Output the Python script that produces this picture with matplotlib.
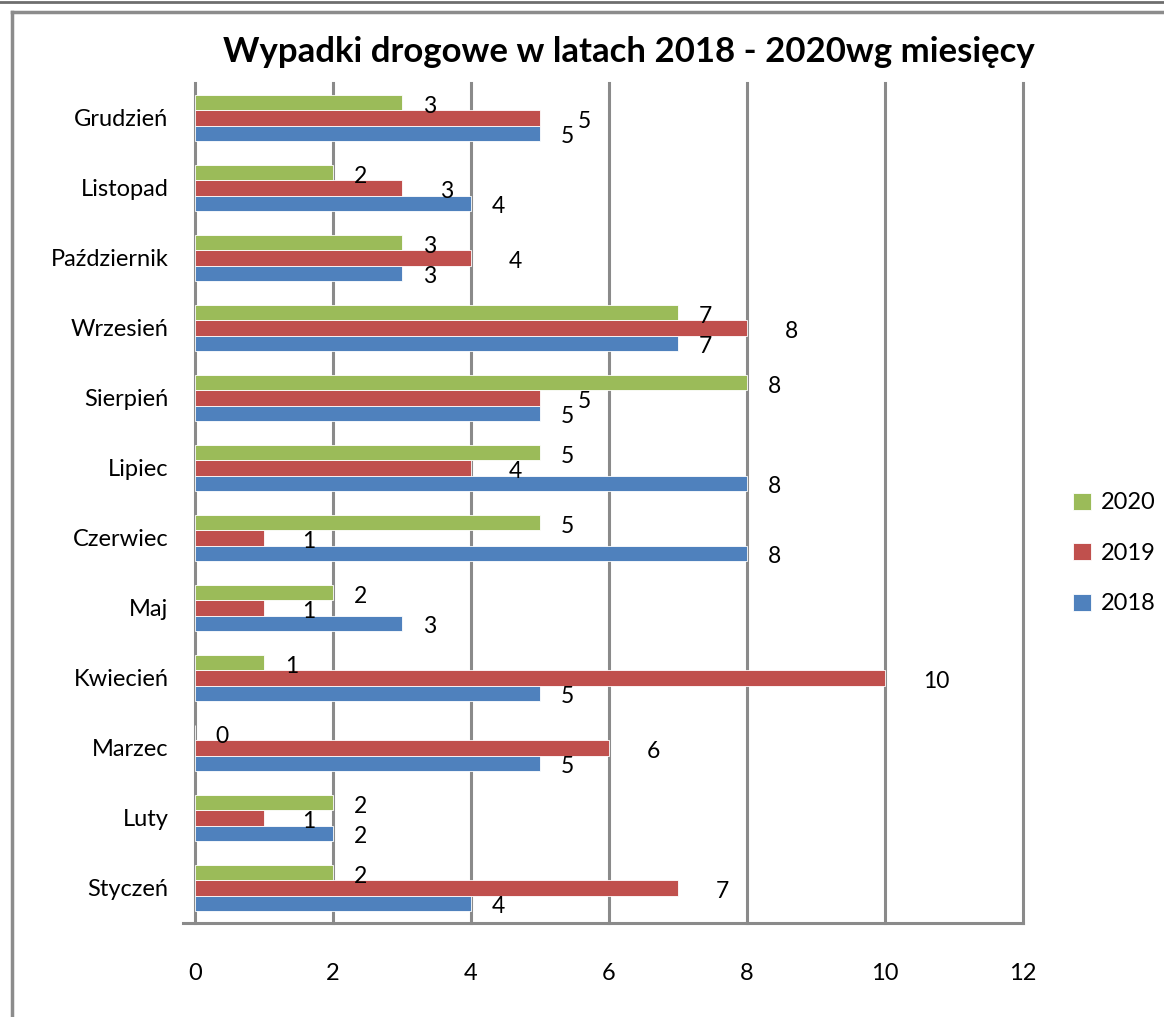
import matplotlib.pyplot as plt
import numpy as np
from matplotlib.lines import Line2D

plt.rcParams['font.family'] = ['Lato', 'DejaVu Sans']

# data
months = ['Styczeń', 'Luty', 'Marzec', 'Kwiecień', 'Maj', 'Czerwiec',
          'Lipiec', 'Sierpień', 'Wrzesień', 'Październik', 'Listopad', 'Grudzień']
y2018 = [4, 2, 5, 5, 3, 8, 8, 5, 7, 3, 4, 5]
y2019 = [7, 1, 6, 10, 1, 1, 4, 5, 8, 4, 3, 5]
y2020 = [2, 2, 0, 1, 2, 5, 5, 8, 7, 3, 2, 3]

c2018 = '#4F81BD'
c2019 = '#C0504D'
c2020 = '#9BBB59'
grid_c = '#8a8a8a'

fig = plt.figure(figsize=(11.64, 10.17), dpi=100)
ax = fig.add_axes([195/1164, 1 - 923/1017, (1023-195)/1164, (923-83)/1017])

pos = np.arange(len(months))
h = 0.22
# (values, colour, name, bar offset, label gap)
series = [(y2018, c2018, '2018', -h, 0.3), (y2019, c2019, '2019', 0, 0.55),
          (y2020, c2020, '2020', h, 0.3)]
for vals, col, lab, off, gap in series:
    ax.barh(pos + off, vals, height=h, color=col, edgecolor='white', linewidth=0.6,
            label=lab, zorder=3)
    for p, v in zip(pos, vals):
        ax.text(v + gap, p + off - 0.05, str(v), fontsize=16.5, va='center', ha='left',
                zorder=4)

ax.set_xlim(0, 12)
ax.set_ylim(-0.5, len(months) - 0.5)
ax.set_xticks(range(0, 13, 2))
ax.set_yticks(pos)
ax.set_yticklabels(months)
ax.tick_params(axis='both', length=0, labelsize=17)
ax.tick_params(axis='x', pad=29)
ax.tick_params(axis='y', pad=19)
# vertical gridlines (not clipped so the last one is full width)
for t in ax.get_xticks()[1:]:
    ax.axvline(t, color=grid_c, linewidth=2.2, zorder=0, clip_on=False)
for s in ['top', 'right']:
    ax.spines[s].set_visible(False)
for s in ['left', 'bottom']:
    ax.spines[s].set_color(grid_c)
    ax.spines[s].set_linewidth(2.2)
ax.spines['bottom'].set_bounds(-0.17, 12)

handles, labels = ax.get_legend_handles_labels()
ax.legend(handles[::-1], labels[::-1], loc='center left', bbox_to_anchor=(1.035, 0.44),
          frameon=False, fontsize=17, handlelength=0.75, handleheight=0.75,
          labelspacing=1.25, handletextpad=0.4)

fig.suptitle('Wypadki drogowe w latach 2018 - 2020wg miesięcy', x=0.54, y=0.965,
             fontsize=25, fontweight='bold')

# chart border
fig.add_artist(Line2D([0, 1], [1 - 2/1017, 1 - 2/1017], color='#6e6e6e', linewidth=2))
fig.add_artist(Line2D([12/1164, 1], [1 - 12/1017, 1 - 12/1017], color='#8c8c8c', linewidth=2.5))
fig.add_artist(Line2D([12/1164, 12/1164], [0, 1 - 12/1017], color='#8c8c8c', linewidth=2.5))

fig.savefig('out.png', dpi=100)
